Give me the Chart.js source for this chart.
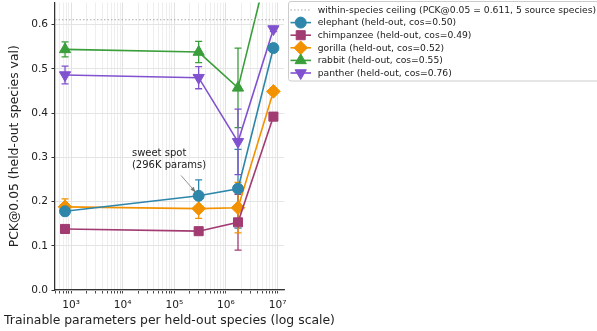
<!DOCTYPE html>
<html>
<head>
<meta charset="utf-8">
<script src="https://cdn.jsdelivr.net/npm/chart.js@4.4.1/dist/chart.umd.min.js"></script>
<style>
  html, body { margin: 0; padding: 0; background: #fff; }
</style>
</head>
<body>
<canvas id="chart" width="597" height="331"></canvas>
<script>
// ---- data ----
var params = [765, 296000, 1710000, 8300000];

var elephant      = [0.178, 0.213, 0.229, 0.547];
var elephantErr   = [0.010, 0.036, 0.089, 0.006];
var chimpanzee    = [0.138, 0.133, 0.153, 0.392];
var chimpanzeeErr = [0.004, 0.004, 0.063, 0.006];
var gorilla       = [0.188, 0.184, 0.186, 0.449];
var gorillaErr    = [0.018, 0.022, 0.057, 0.006];
var rabbit        = [0.544, 0.538, 0.457, 0.780];
var rabbitErr     = [0.017, 0.024, 0.090, 0.006];
var panther       = [0.486, 0.480, 0.335, 0.590];
var pantherErr    = [0.020, 0.025, 0.074, 0.006];

var ceiling = 0.611;
var yTicks = [0, 0.1, 0.2, 0.3, 0.4, 0.5, 0.6];
var xMajor = [1e3, 1e4, 1e5, 1e6, 1e7];
var xMin = 489, xMax = 1.33e7;
var yMin = 0, yMax = 0.65;

var xTitle = 'Trainable parameters per held-out species (log scale)';
var yTitle = 'PCK@0.05 (held-out species val)';
var legendLabels = [
  'within-species ceiling (PCK@0.05 = 0.611, 5 source species)',
  'elephant (held-out, cos=0.50)',
  'chimpanzee (held-out, cos=0.49)',
  'gorilla (held-out, cos=0.52)',
  'rabbit (held-out, cos=0.55)',
  'panther (held-out, cos=0.76)'
];

var FONT = "'DejaVu Sans', sans-serif";
Chart.defaults.font.family = FONT;
Chart.defaults.color = '#222';

function pts(ys) {
  return ys.map(function (v, i) { return { x: params[i], y: v }; });
}

function series(label, ys, errs, color, style, radius, rotation) {
  return {
    label: label,
    data: pts(ys),
    errors: errs,
    borderColor: color,
    backgroundColor: color,
    borderWidth: 1.6,
    pointStyle: style,
    pointRadius: radius,
    pointHoverRadius: radius,
    pointRotation: rotation || 0,
    pointBorderWidth: 1,
    tension: 0
  };
}

var datasets = [
  {
    label: legendLabels[0],
    data: [{ x: xMin, y: ceiling }, { x: xMax, y: ceiling }],
    borderColor: '#a8a8a8',
    borderWidth: 1,
    borderDash: [1.5, 2],
    pointRadius: 0
  },
  series(legendLabels[1], elephant, elephantErr, '#2e86ab', 'circle', 5.5),
  series(legendLabels[2], chimpanzee, chimpanzeeErr, '#a23b72', 'rect', 6.4),
  series(legendLabels[3], gorilla, gorillaErr, '#f39200', 'rectRot', 6.8),
  series(legendLabels[4], rabbit, rabbitErr, '#3a9e3a', 'triangle', 6.5),
  series(legendLabels[5], panther, pantherErr, '#8152cf', 'triangle', 6.5, 180)
];

// vertical error bars with caps, under the markers
var errorBars = {
  id: 'errorBars',
  beforeDatasetsDraw: function (chart) {
    var ctx = chart.ctx, xs = chart.scales.x, ys = chart.scales.y, a = chart.chartArea;
    ctx.save();
    ctx.beginPath();
    ctx.rect(a.left, a.top, a.right - a.left, a.bottom - a.top);
    ctx.clip();
    chart.data.datasets.forEach(function (ds) {
      if (!ds.errors) return;
      ctx.strokeStyle = ds.borderColor;
      ctx.lineWidth = 1.3;
      ds.data.forEach(function (p, i) {
        var e = ds.errors[i];
        var px = xs.getPixelForValue(p.x);
        var top = ys.getPixelForValue(p.y + e);
        var bot = ys.getPixelForValue(p.y - e);
        ctx.beginPath();
        ctx.moveTo(px, top); ctx.lineTo(px, bot);
        ctx.moveTo(px - 3.5, top); ctx.lineTo(px + 3.5, top);
        ctx.moveTo(px - 3.5, bot); ctx.lineTo(px + 3.5, bot);
        ctx.stroke();
      });
    });
    ctx.restore();
  }
};

// "sweet spot" annotation with arrow
var note = { textX: 15100, textY: 0.308, fromX: 135000, fromY: 0.259, target: 1 };
var annotation = {
  id: 'sweetSpot',
  afterDatasetsDraw: function (chart) {
    var ctx = chart.ctx, xs = chart.scales.x, ys = chart.scales.y;
    var tx = xs.getPixelForValue(note.textX), ty = ys.getPixelForValue(note.textY);
    ctx.save();
    ctx.fillStyle = '#222';
    ctx.font = '10px ' + FONT;
    ctx.textAlign = 'left';
    ctx.textBaseline = 'middle';
    ctx.fillText('sweet spot', tx, ty);
    ctx.fillText('(296K params)', tx, ty + 11.5);
    var x0 = xs.getPixelForValue(note.fromX), y0 = ys.getPixelForValue(note.fromY);
    var x1 = xs.getPixelForValue(params[note.target]), y1 = ys.getPixelForValue(elephant[note.target]);
    var ang = Math.atan2(y1 - y0, x1 - x0);
    x1 -= Math.cos(ang) * 4.5; y1 -= Math.sin(ang) * 4.5;
    ctx.strokeStyle = '#777';
    ctx.fillStyle = '#777';
    ctx.lineWidth = 0.8;
    ctx.beginPath(); ctx.moveTo(x0, y0); ctx.lineTo(x1, y1); ctx.stroke();
    ctx.beginPath();
    ctx.moveTo(x1, y1);
    ctx.lineTo(x1 - Math.cos(ang - 0.35) * 6, y1 - Math.sin(ang - 0.35) * 6);
    ctx.lineTo(x1 - Math.cos(ang + 0.35) * 6, y1 - Math.sin(ang + 0.35) * 6);
    ctx.closePath(); ctx.fill();
    ctx.restore();
  }
};

// x-axis title drawn unclipped (it is wider than the axes)
var xTitlePlugin = {
  id: 'xTitle',
  afterDraw: function (chart) {
    var ctx = chart.ctx, a = chart.chartArea;
    ctx.save();
    ctx.fillStyle = '#222';
    ctx.font = '12.4px ' + FONT;
    ctx.textAlign = 'center';
    ctx.textBaseline = 'middle';
    ctx.fillText(xTitle, (a.left + a.right) / 2, a.bottom + 31);
    ctx.restore();
  }
};

// legend box at the top right, outside the axes
var legendBox = {
  id: 'legendBox',
  afterDraw: function (chart) {
    var ctx = chart.ctx;
    var left = 288.5, top = 1.5, rowH = 12.6, firstY = 10;
    ctx.save();
    ctx.fillStyle = 'rgba(255,255,255,0.85)';
    ctx.strokeStyle = '#cccccc';
    ctx.lineWidth = 1;
    ctx.beginPath();
    ctx.roundRect(left, top, 330, 79.5, 2.5);
    ctx.fill(); ctx.stroke();
    chart.data.datasets.forEach(function (ds, i) {
      var y = firstY + i * rowH;
      ctx.save();
      ctx.strokeStyle = ds.borderColor;
      ctx.lineWidth = ds.borderWidth;
      if (ds.borderDash) ctx.setLineDash(ds.borderDash);
      ctx.beginPath(); ctx.moveTo(290.5, y); ctx.lineTo(311, y); ctx.stroke();
      ctx.restore();
      if (ds.pointRadius) {
        ctx.fillStyle = ds.backgroundColor;
        ctx.strokeStyle = ds.borderColor;
        Chart.helpers.drawPoint(ctx, {
          pointStyle: ds.pointStyle, rotation: ds.pointRotation,
          radius: ds.pointRadius, borderWidth: 1
        }, 300.7, y);
      }
      ctx.fillStyle = '#222';
      ctx.font = '9.2px ' + FONT;
      ctx.textBaseline = 'middle';
      ctx.fillText(ds.label, 317.7, y + 0.5);
    });
    ctx.restore();
  }
};

var sup = { '3': '\u00b3', '4': '\u2074', '5': '\u2075', '6': '\u2076', '7': '\u2077' };

new Chart(document.getElementById('chart'), {
  type: 'line',
  data: { datasets: datasets },
  plugins: [errorBars, annotation, xTitlePlugin, legendBox],
  options: {
    responsive: false,
    animation: false,
    layout: { autoPadding: false, padding: { left: 0, right: 313, top: 2.5, bottom: 0 } },
    plugins: { legend: { display: false }, tooltip: { enabled: false } },
    scales: {
      x: {
        type: 'logarithmic',
        min: xMin, max: xMax,
        afterBuildTicks: function (scale) {
          var t = [];
          for (var k = 2; k <= 7; k++) {
            for (var m = 1; m <= 9; m++) {
              var v = m * Math.pow(10, k);
              if (v >= xMin && v <= xMax) t.push({ value: v });
            }
          }
          scale.ticks = t;
        },
        afterFit: function (scale) {
          scale.height = 41;
          scale.paddingLeft = 0; scale.paddingRight = 0;
        },
        ticks: {
          autoSkip: false, maxRotation: 0, padding: 5,
          font: { size: 10.6 }, color: '#222',
          callback: function (v) {
            if (xMajor.indexOf(v) < 0) return '';
            return '10' + sup[String(Math.round(Math.log10(v)))];
          }
        },
        grid: {
          color: function (c) { return xMajor.indexOf(c.tick && c.tick.value) >= 0 ? '#dedede' : '#ececec'; },
          tickColor: '#333', tickLength: 3.5, lineWidth: 0.9
        },
        border: { color: '#333', width: 1.2 }
      },
      y: {
        min: yMin, max: yMax,
        afterBuildTicks: function (scale) {
          scale.ticks = yTicks.map(function (v) { return { value: v }; });
        },
        afterFit: function (scale) {
          scale.width = 55;
          scale.paddingTop = 0; scale.paddingBottom = 0;
        },
        ticks: {
          padding: 3.5, font: { size: 10.6 }, color: '#222',
          callback: function (v) { return Number(v).toFixed(1); }
        },
        grid: { color: '#e4e4e4', tickColor: '#333', tickLength: 3.5, lineWidth: 1 },
        border: { color: '#333', width: 1.2 },
        title: {
          display: true,
          text: yTitle,
          font: { size: 12.4 }, color: '#222',
          padding: { top: 7, bottom: 6 }
        }
      }
    }
  }
});
</script>
</body>
</html>
